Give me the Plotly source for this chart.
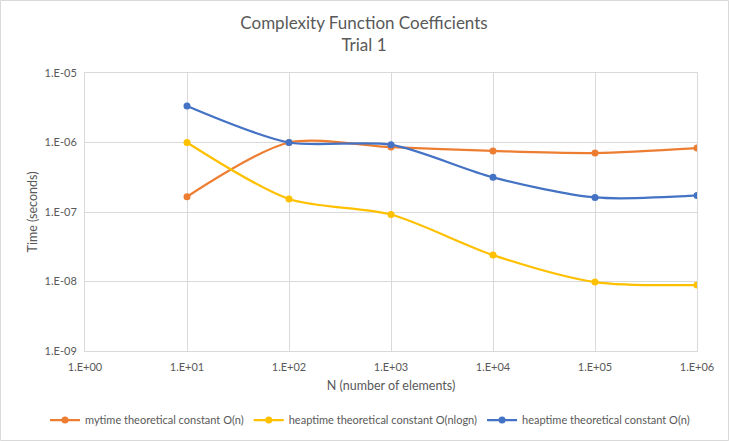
import plotly.graph_objects as go

# element counts and measured coefficients (seconds)
n_values = [1e1, 1e2, 1e3, 1e4, 1e5, 1e6]
mytime_on = [1.66e-7, 1.0e-6, 8.6e-7, 7.55e-7, 7.06e-7, 8.33e-7]
heaptime_onlogn = [1.0e-6, 1.54e-7, 9.2e-8, 2.4e-8, 9.8e-9, 8.9e-9]
heaptime_on = [3.35e-6, 1.0e-6, 9.3e-7, 3.15e-7, 1.62e-7, 1.73e-7]

x_tickvals = [1e0, 1e1, 1e2, 1e3, 1e4, 1e5, 1e6]
x_ticktext = ["1.E+00", "1.E+01", "1.E+02", "1.E+03", "1.E+04", "1.E+05", "1.E+06"]
y_tickvals = [1e-9, 1e-8, 1e-7, 1e-6, 1e-5]
y_ticktext = ["1.E-09", "1.E-08", "1.E-07", "1.E-06", "1.E-05"]

series = [
    ("mytime theoretical constant O(n)", mytime_on, "#ED7D31"),
    ("heaptime theoretical constant O(nlogn)", heaptime_onlogn, "#FFC000"),
    ("heaptime theoretical constant O(n)", heaptime_on, "#4472C4"),
]

font = "Lato"
grey = "#595959"
grid = "#d9d9d9"

fig = go.Figure()
for name, vals, col in series:
    fig.add_trace(go.Scatter(
        x=n_values, y=vals, name=name, mode="lines+markers",
        line=dict(color=col, width=2.25, shape="spline", smoothing=0.8),
        marker=dict(color=col, size=7),
    ))

fig.update_layout(
    width=729, height=441,
    margin=dict(l=85, r=32, t=73, b=90, autoexpand=False),
    paper_bgcolor="white", plot_bgcolor="white",
    font=dict(family=font, color=grey, size=11),
    title=dict(
        text="Complexity Function Coefficients<br>Trial 1",
        xref="container", x=364 / 729, xanchor="center",
        yref="container", y=1 - 29 / 441, yanchor="top",
        font=dict(family=font, size=17, color=grey),
        automargin=False,
    ),
    showlegend=True,
    legend=dict(
        orientation="h",
        xref="paper", x=(45 - 85) / 612, xanchor="left",
        yref="paper", y=(351 - 420) / 278, yanchor="middle",
        font=dict(family=font, size=11, color=grey),
        itemwidth=30,
    ),
    shapes=[dict(
        type="rect", xref="paper", yref="paper",
        x0=(0.5 - 85) / 612, x1=(728.5 - 85) / 612,
        y0=(351 - 440.5) / 278, y1=(351 - 0.5) / 278,
        line=dict(color=grid, width=1), fillcolor="rgba(0,0,0,0)", layer="below",
    )],
)

fig.update_xaxes(
    type="log", range=[0, 6], automargin=False,
    tickvals=x_tickvals, ticktext=x_ticktext,
    showgrid=True, gridcolor=grid, gridwidth=1,
    showline=True, linecolor=grid, mirror=True,
    zeroline=False, ticks="", ticklabelstandoff=6,
    tickfont=dict(size=11, color=grey),
    title=dict(text="N (number of elements)", font=dict(size=12.5, color=grey), standoff=9),
)
fig.update_yaxes(
    type="log", range=[-9, -5], automargin=False,
    tickvals=y_tickvals, ticktext=y_ticktext,
    showgrid=True, gridcolor=grid, gridwidth=1,
    showline=True, linecolor=grid, mirror=True,
    zeroline=False, ticks="", ticklabelstandoff=5,
    tickfont=dict(size=11, color=grey),
    title=dict(text="Time (seconds)", font=dict(size=12.5, color=grey), standoff=4),
)

# drop the browser's default page margin so the figure sits at the window corner
fig.write_html("out.html", config={"displayModeBar": False},
               post_script="document.body.style.margin='0';")
